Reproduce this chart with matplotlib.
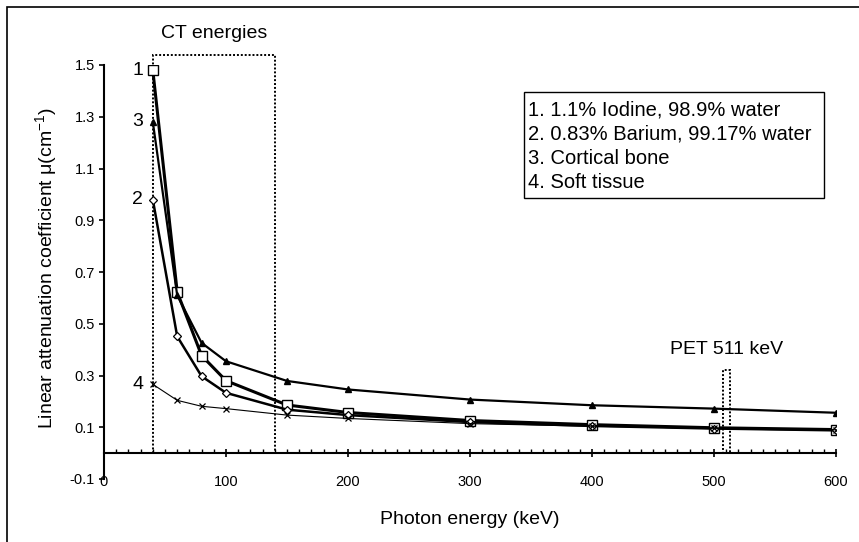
import numpy as np
import matplotlib
matplotlib.use("Agg")
import matplotlib.pyplot as plt
from matplotlib.patches import Rectangle
from matplotlib.ticker import MultipleLocator

matplotlib.rcParams['font.family'] = ['Liberation Sans', 'DejaVu Sans']
matplotlib.rcParams['mathtext.fontset'] = 'custom'
matplotlib.rcParams['mathtext.rm'] = 'Liberation Sans'

# photon energies (keV)
energy = [40, 60, 80, 100, 150, 200, 300, 400, 500, 600]
# linear attenuation coefficients (cm^-1)
iodine = [1.48, 0.623, 0.377, 0.28, 0.186, 0.157, 0.126, 0.11, 0.098, 0.091]
barium = [0.98, 0.451, 0.297, 0.233, 0.168, 0.147, 0.12, 0.105, 0.095, 0.088]
bone = [1.28, 0.61, 0.426, 0.355, 0.279, 0.246, 0.207, 0.185, 0.172, 0.156]
tissue = [0.266, 0.204, 0.181, 0.172, 0.147, 0.134, 0.114, 0.104, 0.096, 0.09]

legend_labels = ["1. 1.1% Iodine, 98.9% water",
                 "2. 0.83% Barium, 99.17% water",
                 "3. Cortical bone",
                 "4. Soft tissue"]
ct_range = (40, 140)
pet_range = (507, 513)

W, H = 859, 542
fig = plt.figure(figsize=(W / 100, H / 100), dpi=100, facecolor="white")
ax = fig.add_axes([104 / W, 1 - 479 / H, 732 / W, 414 / H])

# series (later ones drawn on top, like excel)
ax.plot(energy, iodine, '-s', color='k', lw=2.2, ms=6.5, mfc='white', mec='k', mew=1.0, zorder=3)
ax.plot(energy, barium, '-D', color='k', lw=1.8, ms=4, mfc='white', mec='k', mew=0.9, zorder=4)
ax.plot(energy, bone, '-^', color='k', lw=1.6, ms=4, mfc='k', mec='k', zorder=5)
ax.plot(energy, tissue, '-x', color='k', lw=0.8, ms=5, mew=0.9, zorder=6)

# curve numbers next to the first point
for num, s in zip(["1", "2", "3", "4"], [iodine, barium, bone, tissue]):
    ax.annotate(num, (energy[0], s[0]), xytext=(-11, 0), textcoords='offset points',
                ha='center', va='center', fontsize=14)

ymin, ymax = -0.1, 1.5
ax.set_xlim(0, 600)
ax.set_ylim(ymin, ymax)

# CT and PET dotted boxes
ax.add_patch(Rectangle((ct_range[0], 0), ct_range[1] - ct_range[0], 1.54, fill=False,
                       ls=(0, (1, 1)), lw=1.4, ec='k', clip_on=False, zorder=2))
ax.add_patch(Rectangle((pet_range[0], 0), pet_range[1] - pet_range[0], 0.32, fill=False,
                       ls=(0, (1, 1)), lw=1.4, ec='k', clip_on=False, zorder=2))
ax.text(np.mean(ct_range), 1.62, "CT energies", ha='center', va='center', fontsize=14)
ax.text(510, 0.40, "PET 511 keV", ha='center', va='center', fontsize=14)

# spines
for s in ['top', 'right', 'bottom']:
    ax.spines[s].set_visible(False)
ax.spines['left'].set_linewidth(1.5)

ax.set_yticks(np.arange(-0.1, 1.51, 0.2))
ax.set_yticklabels(["%.1f" % v for v in np.arange(-0.1, 1.51, 0.2)])
ax.tick_params(axis='y', direction='out', length=3.5, width=1.2, pad=3, labelsize=10.5)

ax.set_xticks(np.arange(0, 601, 100))
ax.tick_params(axis='x', length=0, pad=-3, labelsize=10.5)

# x axis line crossing at y = 0
sec = ax.secondary_xaxis((0 - ymin) / (ymax - ymin))
sec.spines['bottom'].set_linewidth(1.5)
sec.xaxis.set_major_locator(MultipleLocator(100))
sec.xaxis.set_minor_locator(MultipleLocator(10))
sec.tick_params(which='major', direction='inout', length=6, width=1.2, labelbottom=False)
sec.tick_params(which='minor', direction='in', length=3, width=1.0)

ax.set_xlabel("Photon energy (keV)", fontsize=14)
ax.xaxis.set_label_coords(0.5, -0.078)
ax.set_ylabel("Linear attenuation coefficient μ(cm$^{-1}$)", fontsize=14)
ax.yaxis.set_label_coords(-0.06, 0.51)

# legend box
fig.add_artist(Rectangle((524 / W, 1 - 198 / H), 300 / W, 106 / H, fill=False,
                         lw=1.0, ec='k', transform=fig.transFigure))
for i, lab in enumerate(legend_labels):
    fig.text(528 / W, 1 - (110 + 24 * i) / H, lab, ha='left', va='center', fontsize=14.5)

# outer frame
fig.add_artist(Rectangle((7 / W, -0.1), 1.2, 1 - 7 / H + 0.1, fill=False, lw=1.2, ec='k',
                         transform=fig.transFigure))

fig.savefig("out.png", dpi=100)
